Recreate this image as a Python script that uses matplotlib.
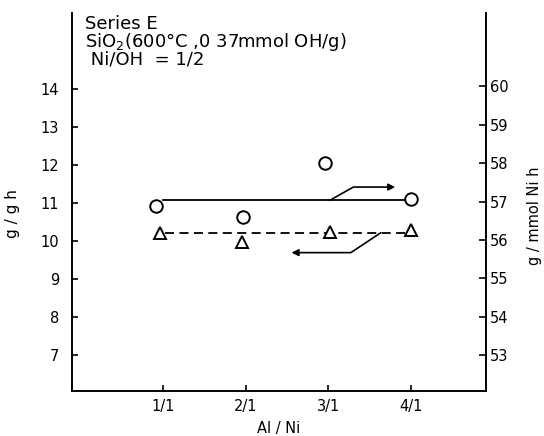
import matplotlib
matplotlib.use("Agg")
import matplotlib.pyplot as plt

# Data
categories = ["1/1", "2/1", "3/1", "4/1"]
cat_pos = [1, 2, 3, 4]
circle_x = [0.92, 1.97, 2.96, 4.00]
circle_y = [56.90, 56.61, 58.00, 57.08]      # g/mmol Ni h (right axis)
triangle_x = [0.96, 1.96, 3.02, 4.00]
triangle_y = [10.22, 9.98, 10.24, 10.30]     # g/g h (left axis)
solid_x = [1.0, 3.95]
solid_y = [57.04, 57.04]
dashed_x = [1.02, 3.95]
dashed_y = [10.22, 10.22]
left_ticks = [7, 8, 9, 10, 11, 12, 13, 14]
right_ticks = [53, 54, 55, 56, 57, 58, 59, 60]

plt.rcParams['font.family'] = ['DejaVu Sans']

fig = plt.figure(figsize=(5.44, 4.36), dpi=100)
ax = fig.add_axes([0.132, 0.104, 0.893 - 0.132, 0.970 - 0.104])
ax2 = ax.twinx()

ax.set_xlim(-0.1, 4.9)
ax.set_ylim(6.07, 16.0)
ax2.set_ylim(52.08, 61.91)

for a in (ax, ax2):
    a.spines['top'].set_visible(False)
    for s in a.spines.values():
        s.set_linewidth(1.2)

# lines
ax2.plot(solid_x, solid_y, color='black', lw=1.3, zorder=2)
ax.plot(dashed_x, dashed_y, color='black', lw=1.3, ls=(0, (5, 3)), zorder=2)

# markers
ax2.plot(circle_x, circle_y, ls='none', marker='o', ms=9, mfc='white',
         mec='black', mew=1.4, zorder=3)
ax.plot(triangle_x, triangle_y, ls='none', marker='^', ms=8, mfc='white',
        mec='black', mew=1.4, zorder=3)

# arrows indicating the axis for each line
ax2.plot([3.02, 3.30, 3.70], [57.04, 57.38, 57.38], color='black', lw=1.2)
ax2.annotate('', xy=(3.84, 57.38), xytext=(3.68, 57.38),
             arrowprops=dict(arrowstyle='-|>', color='black', lw=1.2,
                             mutation_scale=10))
ax.plot([3.63, 3.27, 2.66], [10.22, 9.70, 9.70], color='black', lw=1.2)
ax.annotate('', xy=(2.52, 9.70), xytext=(2.68, 9.70),
            arrowprops=dict(arrowstyle='-|>', color='black', lw=1.2,
                            mutation_scale=10))

# ticks
ax.set_xticks(cat_pos)
ax.set_xticklabels(categories)
ax.set_yticks(left_ticks)
ax2.set_yticks(right_ticks)
ax.tick_params(axis='x', direction='in', length=4, width=1.2, pad=6, labelsize=10.5)
ax.tick_params(axis='y', direction='in', length=4, width=1.2, pad=9, labelsize=10.5)
ax2.tick_params(axis='y', direction='in', length=5, width=1.2, pad=3, labelsize=10.5)

ax.set_xlabel('Al / Ni', fontsize=10.5, labelpad=5)
ax.set_ylabel('g / g h', fontsize=11)
ax.yaxis.set_label_coords(-0.125, 0.47)
ax2.set_ylabel('g / mmol Ni h', fontsize=10.5, rotation=90)
ax2.yaxis.set_label_coords(1.10, 0.463)

ax.text(0.032, 0.995, 'Series E\nSiO$_2$(600°C ,0 37mmol OH/g)\n Ni/OH  = 1/2',
        transform=ax.transAxes, ha='left', va='top', fontsize=13,
        linespacing=0.85)

fig.savefig('out.png', dpi=100)
